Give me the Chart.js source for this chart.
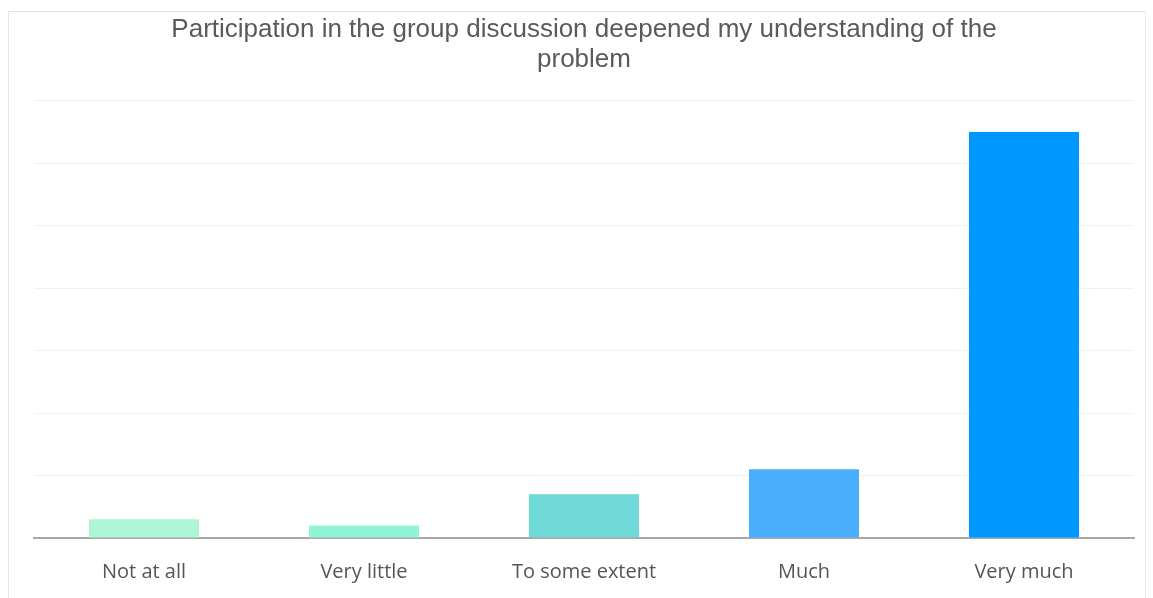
<!DOCTYPE html>
<html>
<head>
<meta charset="utf-8">
<script src="https://cdn.jsdelivr.net/npm/chart.js@4"></script>
<style>
  html, body { margin: 0; padding: 0; background: #fff; }
  #box {
    position: absolute; left: 8px; top: 11px; width: 1138px; height: 590px;
    border-left: 1px solid #e4e4e4; border-top: 1px solid #e4e4e4; border-right: 1px solid #ececec;
    box-sizing: border-box;
  }
</style>
</head>
<body>
<div id="box"><canvas id="chart"></canvas></div>
<script>
const titleLines = ['Participation in the group discussion deepened my understanding of the', 'problem'];
const categories = ['Not at all', 'Very little', 'To some extent', 'Much', 'Very much'];
const responses = [3, 2, 7, 11, 65];
const barColors = ['#aef5d6', '#8ff5d6', '#6fdad8', '#4aaeff', '#0097ff'];
const yMax = 70;
const yStep = 10;

const ctx = document.getElementById('chart').getContext('2d');
new Chart(ctx, {
    type: 'bar',
    data: {
        labels: categories,
        datasets: [{
            data: responses,
            backgroundColor: barColors,
            borderWidth: 0,
            barPercentage: 0.5,
            categoryPercentage: 1
        }]
    },
    options: {
        responsive: true,
        maintainAspectRatio: false,
        animation: false,
        layout: { padding: { left: 25, right: 11, top: 0, bottom: 3 } },
        plugins: {
            legend: { display: false },
            tooltip: { enabled: false },
            title: {
                display: true,
                text: titleLines,
                color: '#5a5a5a',
                font: { family: 'Liberation Sans', size: 26, weight: 'normal', lineHeight: 1.15 },
                padding: { top: 3, bottom: 26 }
            }
        },
        scales: {
            x: {
                grid: { display: false },
                border: { color: '#a8a8a8', width: 2 },
                ticks: {
                    color: '#555',
                    font: { family: 'Open Sans', size: 20 },
                    padding: 14
                }
            },
            y: {
                min: 0,
                max: yMax,
                ticks: { display: false, stepSize: yStep },
                grid: { color: '#f1f1f1', lineWidth: 1, drawTicks: false },
                border: { display: false }
            }
        }
    }
});
</script>
</body>
</html>
